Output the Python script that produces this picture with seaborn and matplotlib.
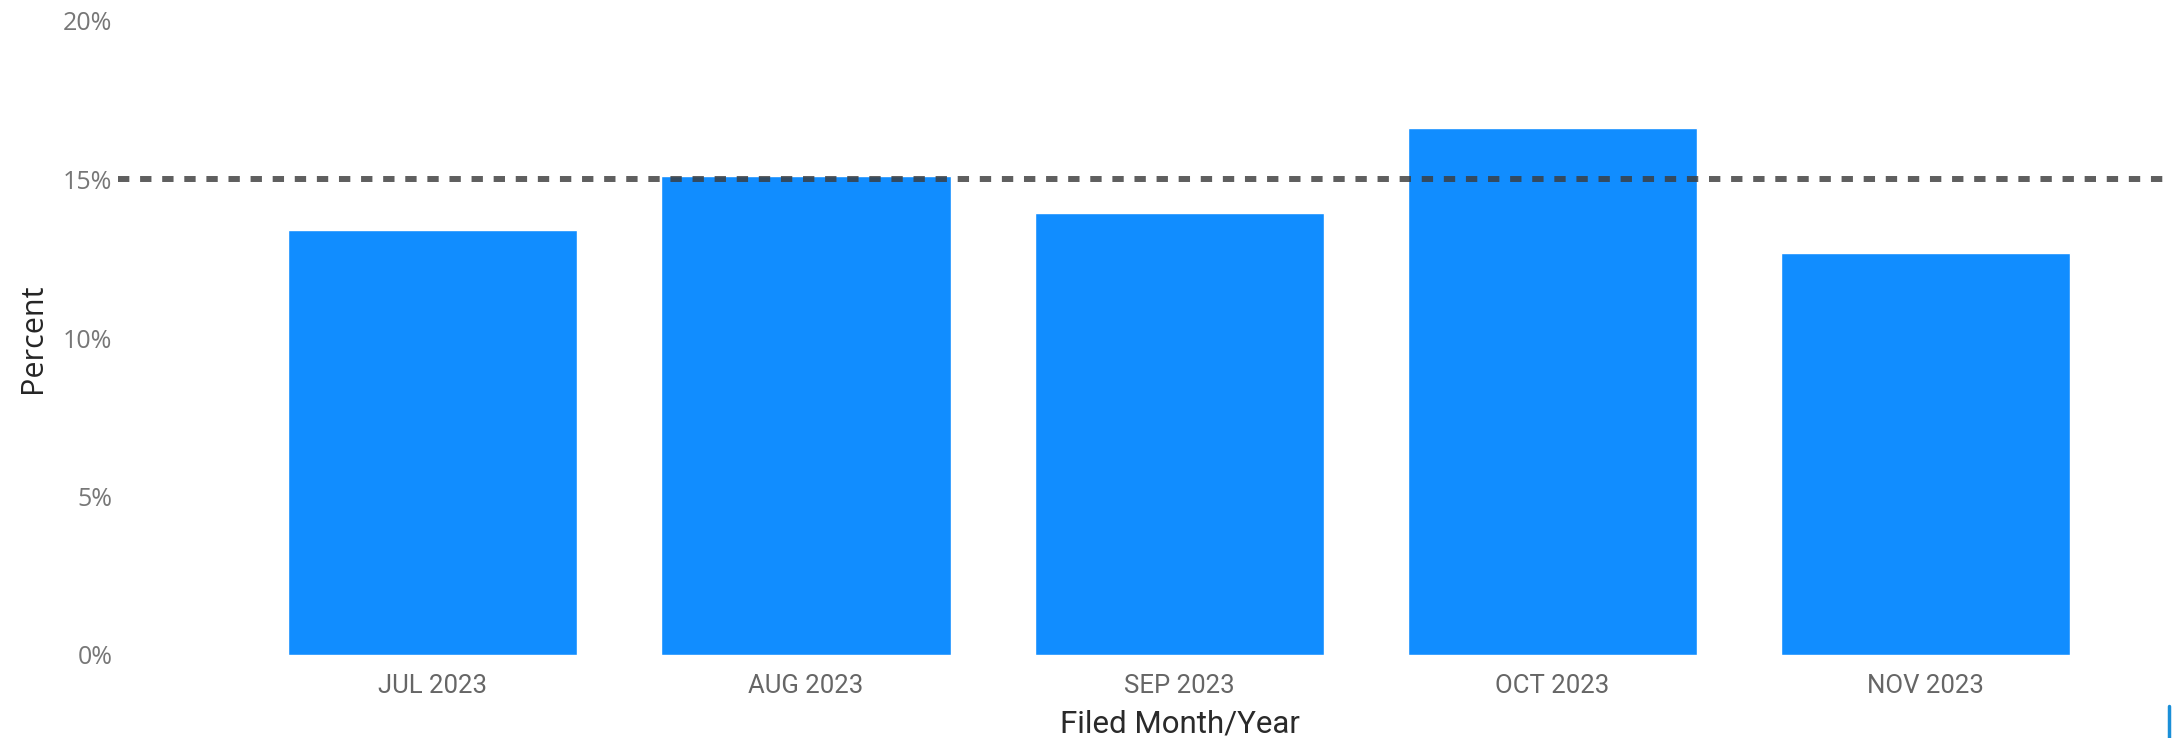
import numpy as np
import pandas as pd
import matplotlib
matplotlib.use('Agg')
import matplotlib.pyplot as plt
from matplotlib.lines import Line2D
import seaborn as sns

# values
months = ['JUL 2023', 'AUG 2023', 'SEP 2023', 'OCT 2023', 'NOV 2023']
percent = [13.41, 15.12, 13.94, 16.63, 12.68]
target = 15.0
yticks = [0, 5, 10, 15, 20]

df = pd.DataFrame({'month': months, 'percent': percent})

sns.set_theme(style='white')
plt.rcParams['font.family'] = ['Open Sans', 'DejaVu Sans']

fig = plt.figure(figsize=(21.72, 7.38), dpi=100)
ax = fig.add_axes([118 / 2172, 1 - 655 / 738, 1 - 118 / 2172, (655 - 21) / 738])

sns.barplot(data=df, x='month', y='percent', color='#118DFF', saturation=1,
            width=0.775, ax=ax)

# dotted target line on top of the bars
ax.axhline(target, color='#3c3c3c', alpha=0.82, lw=4.3,
           linestyle=(0, (1.9, 1.8)), dash_capstyle='butt', zorder=5)

ax.set_xlim(-0.843, 4.66)
ax.set_ylim(0, 20)
ax.set_yticks(yticks)
ax.set_yticklabels([f'{v}%' for v in yticks])
sns.despine(ax=ax, left=True, bottom=True)
ax.tick_params(axis='y', length=0, pad=4, labelsize=18, labelcolor='#777777')
ax.tick_params(axis='x', length=0, pad=14, labelsize=18.5, labelcolor='#666666')
for lbl in ax.get_xticklabels():
    lbl.set_fontfamily(['Roboto', 'DejaVu Sans'])

ax.set_xlabel('Filed Month/Year', fontsize=22.5, color='#2a2a2a',
              fontfamily=['Roboto', 'DejaVu Sans'])
ax.set_ylabel('Percent', fontsize=22, color='#252525')
ax.xaxis.set_label_coords(0.517, -0.109)
ax.xaxis.label.set_va('center')
ax.yaxis.set_label_coords(-0.0414, 0.5)
ax.yaxis.label.set_va('center')

# small blue edge at bottom right of the screenshot
fig.add_artist(Line2D([0.9985, 0.9985], [0, 0.044], color='#1a8fd8', lw=2.5))

fig.savefig('out.png', dpi=100)
